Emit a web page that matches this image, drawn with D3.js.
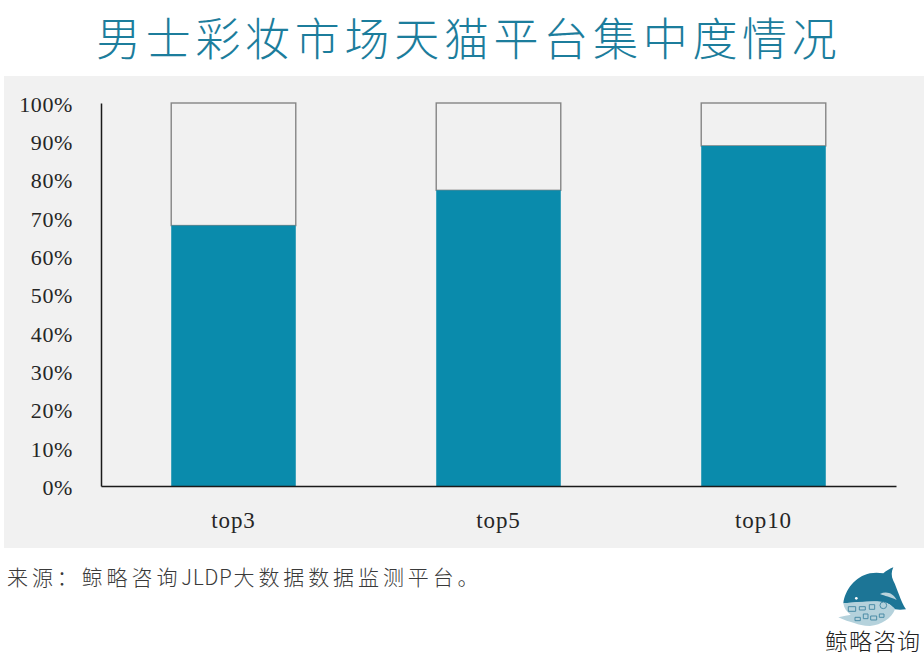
<!DOCTYPE html>
<html>
<head>
<meta charset="utf-8">
<script src="https://cdn.jsdelivr.net/npm/d3@7"></script>
<style>
    html, body { margin: 0; padding: 0; background: #fff; }
    svg { display: block; }
    .tick-label { font-family: "Liberation Serif", serif; font-size: 22px; letter-spacing: 0.6px; fill: #262626; }
    .x-label { font-size: 23px; letter-spacing: 0.9px; }
    .title { font-family: "Noto Sans CJK SC", sans-serif; font-weight: 300; font-size: 45px; letter-spacing: 4.7px; fill: #1c7d9c; }
    .source { font-family: "Noto Sans CJK SC", sans-serif; font-weight: 300; font-size: 21px; letter-spacing: 3.9px; fill: #3a3a3a; }
    .source .latin { letter-spacing: 0.6px; }
    .logo-text { font-family: "Noto Sans CJK SC", sans-serif; font-weight: 300; font-size: 23px; letter-spacing: 1px; fill: #222; }
</style>
</head>
<body>
<svg width="924" height="661"></svg>
<script>
const categories = ["top3", "top5", "top10"];
const shareValues = [68, 77.2, 88.8];
const yTicks = [0, 10, 20, 30, 40, 50, 60, 70, 80, 90, 100];

const svg = d3.select("svg");

svg.append("rect")
    .attr("x", 4).attr("y", 76)
    .attr("width", 920).attr("height", 472)
    .attr("fill", "#f1f1f1");

svg.append("text")
    .attr("class", "title")
    .attr("x", 96).attr("y", 56)
    .text("男士彩妆市场天猫平台集中度情况");

const xScale = d3.scaleBand()
    .domain(categories)
    .range([101, 896])
    .paddingInner(0.53)
    .paddingOuter(0.265);

const yScale = d3.scaleLinear()
    .domain([0, 100])
    .range([486, 103]);

// remainder box sits behind the filled part
svg.selectAll(".rest")
    .data(shareValues)
    .enter().append("rect")
    .attr("class", "rest")
    .attr("x", (d, i) => xScale(categories[i]))
    .attr("y", yScale(100))
    .attr("width", xScale.bandwidth())
    .attr("height", (d) => yScale(d) - yScale(100))
    .attr("fill", "none")
    .attr("stroke", "#858585")
    .attr("stroke-width", 1.4);

svg.selectAll(".share")
    .data(shareValues)
    .enter().append("rect")
    .attr("class", "share")
    .attr("x", (d, i) => xScale(categories[i]))
    .attr("y", (d) => yScale(d))
    .attr("width", xScale.bandwidth())
    .attr("height", (d) => yScale(0) - yScale(d))
    .attr("fill", "#0a8bac");

const yAxis = d3.axisLeft(yScale)
    .tickValues(yTicks)
    .tickSize(0)
    .tickPadding(28)
    .tickFormat((d) => d + "%");

const xAxis = d3.axisBottom(xScale)
    .tickSize(0)
    .tickPadding(26);

const gy = svg.append("g").attr("transform", "translate(101,0)").call(yAxis);
const gx = svg.append("g").attr("transform", "translate(0,486)").call(xAxis);

[gy, gx].forEach((g) => {
    g.attr("font-family", null).attr("font-size", null);
    g.selectAll(".domain").attr("stroke", "#1a1a1a").attr("stroke-width", 1.5);
    g.selectAll("text").attr("class", "tick-label");
});
gy.selectAll("text").attr("dy", "0.38em");
gx.selectAll("text").classed("x-label", true);

const source = svg.append("text")
    .attr("class", "source")
    .attr("x", 7).attr("y", 585);
source.append("tspan").text("来源：鲸略咨询");
source.append("tspan").attr("class", "latin").text("JLDP");
source.append("tspan").attr("dx", 1).text("大数据数据监测平台。");

// whale logo, hand traced in zoomed coordinates
const logo = svg.append("g").attr("transform", "translate(780,540) scale(0.3333)");
logo.append("path")
    .attr("d", "M190,190 C195,150 225,110 270,100 C285,97 298,98 310,100 C320,92 330,86 340,82 C334,95 333,108 340,122 C352,145 362,185 378,208 C365,210 355,210 345,208 C335,195 320,185 300,185 C265,183 225,188 190,190 Z")
    .attr("fill", "#1c7596");
logo.append("path")
    .attr("d", "M190,190 C225,186 265,183 300,185 C320,185 335,195 345,208 C335,235 305,255 270,258 C250,258 235,254 225,250 C210,246 190,240 175,232 C190,228 205,226 212,224 C200,215 192,205 190,190 Z")
    .attr("fill", "#b5d2dc");
logo.append("path")
    .attr("d", "M300,162 C320,152 340,160 350,180 C330,170 315,168 300,162 Z")
    .attr("fill", "#b9d3dc");
logo.append("circle").attr("cx", 229).attr("cy", 175).attr("r", 4).attr("fill", "#fff");
// doodles on the belly
logo.append("path")
    .attr("d", "M205,200 h22 v14 h-22 Z M238,200 h18 v10 h-18 Z M268,194 h16 v14 h-16 Z M300,196 a10,10 0 1,0 20,0 a10,10 0 1,0 -20,0 Z M225,232 h16 v10 h-16 Z M250,222 h14 v14 h-14 Z M272,228 h18 v12 h-18 Z M298,222 h14 v10 h-14 Z")
    .attr("fill", "none")
    .attr("stroke", "#4a8ca6")
    .attr("stroke-width", 3);

svg.append("text")
    .attr("class", "logo-text")
    .attr("x", 825).attr("y", 650)
    .text("鲸略咨询");
</script>
</body>
</html>
